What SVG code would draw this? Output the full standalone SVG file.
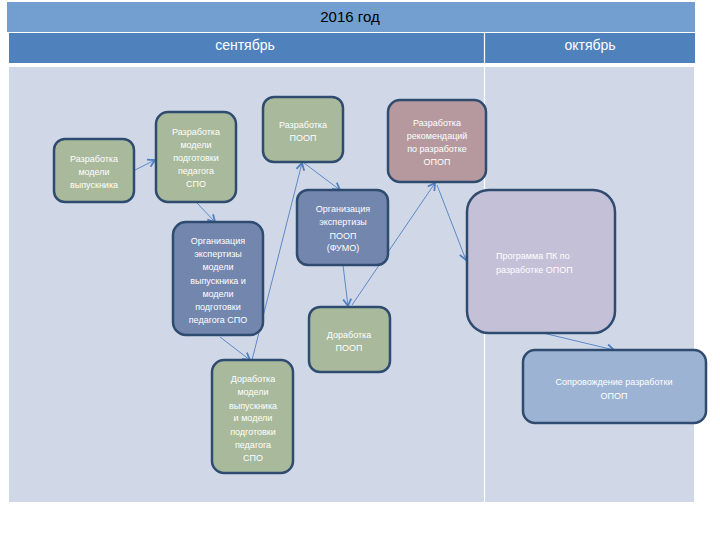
<svg xmlns="http://www.w3.org/2000/svg" width="720" height="540" viewBox="0 0 720 540">
<defs>
<marker id="arr" markerWidth="10" markerHeight="10" refX="8" refY="5" orient="auto" markerUnits="userSpaceOnUse">
<path d="M1,1 L8,5 L1,9" fill="none" stroke="#4f7fbf" stroke-width="1.8"/>
</marker>
<style>
.hdr{font-family:"Liberation Sans Narrow","Liberation Sans",sans-serif;text-anchor:middle}
.box{stroke:#2f4b6f;stroke-width:2.5}
.green{fill:#a9b99b}
.blue{fill:#7386ae}
.mauve{fill:#b5999e}
.lav{fill:#c4c0d8}
.lblue{fill:#9db3d4}
.t{font-family:"Liberation Sans",Arial,sans-serif;font-size:9px;fill:#ffffff;text-anchor:middle}
.c{fill:none;stroke:#4f7fbf;stroke-width:0.9;marker-end:url(#arr)}
</style>
</defs>
<rect width="720" height="540" fill="#ffffff"/>
<g id="table">
<rect x="7" y="2" width="688" height="30" fill="#729fcf"/>
<rect x="9" y="33" width="686" height="30" fill="#4f81bd"/>
<rect x="9" y="67" width="685" height="435" fill="#d0d8e8"/>
<line x1="484.5" y1="33" x2="484.5" y2="502" stroke="#ffffff" stroke-width="1.2"/>
<text class="hdr" x="350" y="22" font-size="15" fill="#000000">2016 год</text>
<text class="hdr" x="245" y="50" font-size="14" fill="#ffffff">сентябрь</text>
<text class="hdr" x="590" y="50" font-size="14" fill="#ffffff">октябрь</text>
</g>
<g id="connectors">
<line class="c" x1="135" y1="170" x2="155" y2="160"/>
<line class="c" x1="197" y1="203" x2="215" y2="222"/>
<line class="c" x1="220" y1="337" x2="250" y2="360"/>
<line class="c" x1="252" y1="360" x2="302" y2="163"/>
<line class="c" x1="304" y1="163" x2="340" y2="190"/>
<line class="c" x1="343" y1="265" x2="348" y2="306"/>
<line class="c" x1="352" y1="305" x2="435" y2="183"/>
<line class="c" x1="437" y1="185" x2="466" y2="260"/>
<line class="c" x1="543" y1="333" x2="614" y2="350"/>
</g>
<g id="n1">
<rect class="box green" x="54" y="139" width="80" height="63" rx="11"/>
<text class="t" x="94" y="162">Разработка</text>
<text class="t" x="94" y="175">модели</text>
<text class="t" x="94" y="188">выпускника</text>
</g>
<g id="n2">
<rect class="box green" x="156" y="112" width="80" height="90" rx="12"/>
<text class="t" x="196" y="135">Разработка</text>
<text class="t" x="196" y="148">модели</text>
<text class="t" x="196" y="161">подготовки</text>
<text class="t" x="196" y="174">педагога</text>
<text class="t" x="196" y="187">СПО</text>
</g>
<g id="n3">
<rect class="box green" x="263" y="97" width="80" height="65" rx="11"/>
<text class="t" x="303" y="128">Разработка</text>
<text class="t" x="303" y="141">ПООП</text>
</g>
<g id="n4">
<rect class="box mauve" x="388" y="100" width="98" height="82" rx="12"/>
<text class="t" x="437" y="126">Разработка</text>
<text class="t" x="437" y="139">рекомендаций</text>
<text class="t" x="437" y="152">по разработке</text>
<text class="t" x="437" y="165">ОПОП</text>
</g>
<g id="n5">
<rect class="box blue" x="173" y="222" width="90" height="113" rx="13"/>
<text class="t" x="218" y="244">Организация</text>
<text class="t" x="218" y="257">экспертизы</text>
<text class="t" x="218" y="270">модели</text>
<text class="t" x="218" y="284">выпускника и</text>
<text class="t" x="218" y="297">модели</text>
<text class="t" x="218" y="310">подготовки</text>
<text class="t" x="218" y="323">педагога СПО</text>
</g>
<g id="n6">
<rect class="box blue" x="297" y="190" width="91" height="75" rx="11"/>
<text class="t" x="343" y="212">Организация</text>
<text class="t" x="343" y="225">экспертизы</text>
<text class="t" x="343" y="239">ПООП</text>
<text class="t" x="343" y="251">(ФУМО)</text>
</g>
<g id="n7">
<rect class="box green" x="309" y="307" width="81" height="65" rx="11"/>
<text class="t" x="349" y="338">Доработка</text>
<text class="t" x="349" y="351">ПООП</text>
</g>
<g id="n8">
<rect class="box green" x="212" y="360" width="81" height="113" rx="12"/>
<text class="t" x="253" y="382">Доработка</text>
<text class="t" x="253" y="395">модели</text>
<text class="t" x="253" y="409">выпускника</text>
<text class="t" x="253" y="421">и модели</text>
<text class="t" x="253" y="435">подготовки</text>
<text class="t" x="253" y="448">педагога</text>
<text class="t" x="253" y="461">СПО</text>
</g>
<g id="n9">
<rect class="box lav" x="467" y="190" width="148" height="143" rx="22"/>
<text class="t" x="496" y="259" style="text-anchor:start">Программа ПК по</text>
<text class="t" x="496" y="273" style="text-anchor:start">разработке ОПОП</text>
</g>
<g id="n10">
<rect class="box lblue" x="523" y="350" width="183" height="73" rx="12"/>
<text class="t" x="614" y="385">Сопровождение разработки</text>
<text class="t" x="614" y="399">ОПОП</text>
</g>
</svg>
